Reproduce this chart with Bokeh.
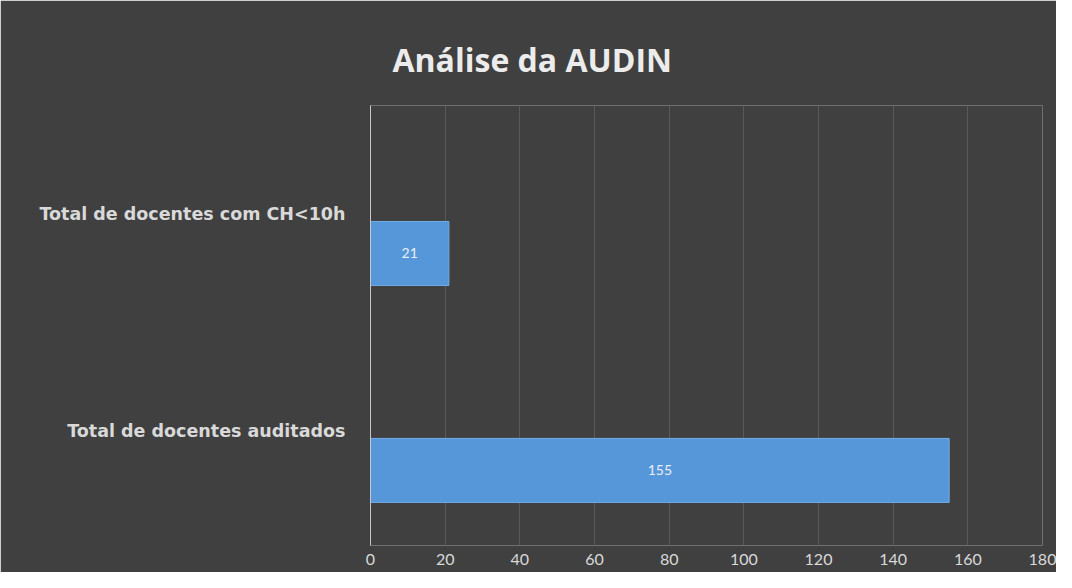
from bokeh.plotting import figure
from bokeh.models import (Range1d, LinearAxis, FixedTicker, ColumnDataSource, LabelSet)
from bokeh.core.properties import value
from bokeh.embed import file_html
from bokeh.resources import INLINE

# ---- data ----
title_text = "Análise da AUDIN"
categories = ["Total de docentes auditados", "Total de docentes com CH<10h"]
values = [155, 21]
x_ticks = [0, 20, 40, 60, 80, 100, 120, 140, 160, 180]

BG = "#404040"
FONT = "Lato"

pos = list(range(len(categories)))
src = ColumnDataSource(dict(
    y=pos, v=values, mid=[v / 2 for v in values], lbl=[str(v) for v in values],
))

p = figure(width=1056, height=572, output_backend="svg", toolbar_location=None,
           x_range=Range1d(0, 180), y_range=Range1d(-0.346, 1.682),
           y_axis_location=None, min_border_left=370, min_border_right=14,
           min_border_top=105, min_border_bottom=27)
p.background_fill_color = BG
p.border_fill_color = BG
p.outline_line_color = None

p.title.text = title_text
p.title.align = "left"
p.title.offset = 22
p.title.text_font = "Open Sans"
p.title.text_font_size = "32px"
p.title.text_font_style = "bold"
p.title.text_color = "#ececec"
p.title.standoff = 50

p.hbar(y="y", right="v", left=0, height=0.295, source=src,
       fill_color="#5597d9", line_color="#72abe4", line_width=1)

p.add_layout(LabelSet(x="mid", y="y", text="lbl", source=src,
                      text_align="center", text_baseline="middle",
                      text_font=value(FONT), text_font_size="14px",
                      text_color="#e8eef6"))

# x axis
p.xaxis.ticker = FixedTicker(ticks=x_ticks)
p.xaxis.axis_line_color = None
p.xaxis.major_tick_line_color = None
p.xaxis.major_tick_out = 0
p.xaxis.major_tick_in = 0
p.xaxis.minor_tick_line_color = None
p.xaxis.major_label_text_font = FONT
p.xaxis.major_label_text_font_size = "16px"
p.xaxis.major_label_text_color = "#d9d9d9"
p.xaxis.major_label_standoff = 8

p.xgrid.ticker = FixedTicker(ticks=x_ticks)
p.xgrid.grid_line_color = "#5a5a5a"
p.ygrid.grid_line_color = None

# category axis (labels sit above each bar, as in the reference)
p.extra_y_ranges = {"lbl": Range1d(-0.530, 1.498)}
yax = LinearAxis(y_range_name="lbl", ticker=FixedTicker(ticks=pos),
                 major_label_overrides={i: c for i, c in zip(pos, categories)})
yax.axis_line_color = "#c8c8c8"
yax.major_tick_line_color = None
yax.major_tick_out = 0
yax.major_tick_in = 0
yax.minor_tick_line_color = None
yax.major_label_text_font = "DejaVu Sans"
yax.major_label_text_font_size = "17.5px"
yax.major_label_text_font_style = "bold"
yax.major_label_text_color = "#d9d9d9"
yax.major_label_standoff = 25
p.add_layout(yax, "left")

open("out.html", "w").write(file_html(p, INLINE))
